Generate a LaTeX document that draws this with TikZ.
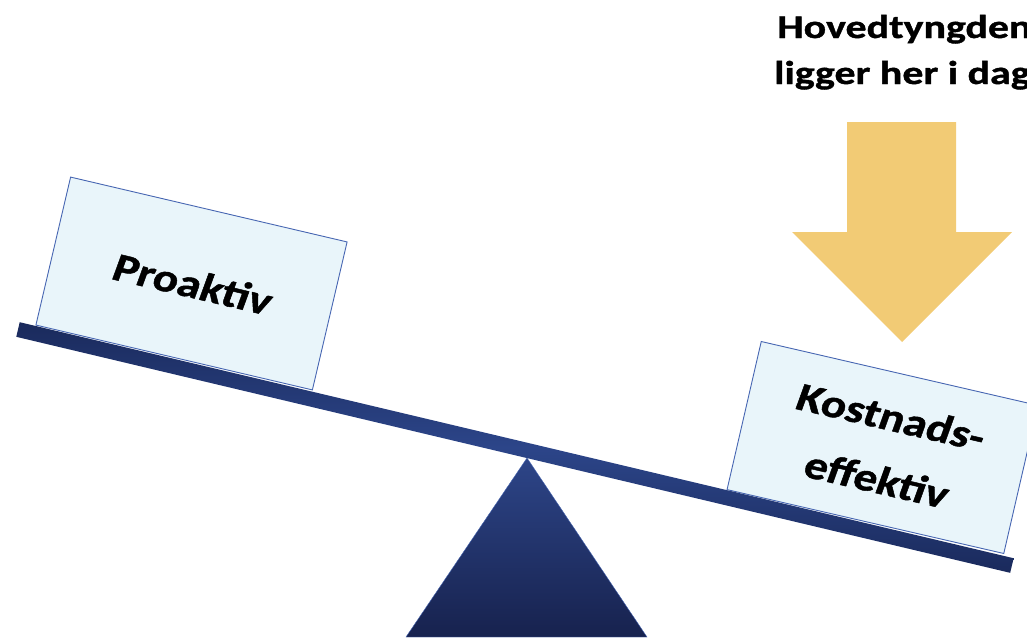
\documentclass[tikz,border=0pt]{standalone}
\usepackage{fontspec}
\setmainfont{Carlito}
\newfontfamily\widefont[FakeStretch=1.27, FakeBold=1.2]{Carlito Bold}
\newfontfamily\platefont[FakeStretch=1.17, FakeSlant=0.12, FakeBold=1.2]{Carlito Bold}
\definecolor{tritop}{HTML}{2D4588}
\definecolor{tribot}{HTML}{17224E}
\definecolor{beammid}{HTML}{2C4589}
\definecolor{beamedge}{HTML}{1A2A5C}
\definecolor{boxfill}{HTML}{E9F5FA}
\definecolor{boxline}{HTML}{4766B2}
\definecolor{arrowc}{HTML}{F2CB75}
\tikzset{
  plate/.style={draw=boxline, line width=0.9pt, fill=boxfill, minimum width=284pt, minimum height=152pt, inner sep=0pt, align=center, font=\fontsize{40}{64}\selectfont\platefont},
  title/.style={anchor=base west, inner sep=0pt, font=\fontsize{33}{40}\selectfont\widefont}
}
\begin{document}
\begin{tikzpicture}[x=1pt,y=-1pt]
\useasboundingbox (0,0) rectangle (1027,637);
\clip (0,0) rectangle (1027,637);
% fulcrum
\shade[top color=tritop, bottom color=tribot, draw=boxline, line width=0.4pt] (527,458) -- (647,637) -- (406,637) -- cycle;
% plates
\node[plate, rotate=-13.2] (pro) at (191.5,283.5) {Proaktiv};
\node[plate, rotate=-13.0] (kost) at (882.5,447.5) {Kostnads-\\effektiv};
% beam
\begin{scope}[shift={(18,329.5)}, rotate=-13.36]
\shade[top color=beamedge, bottom color=beamedge, middle color=beammid] (0,-7.5) rectangle (1021.6,7.5);
\end{scope}
% arrow
\fill[arrowc] (847,122) -- (956,122) -- (956,232) -- (1012,232) -- (902,342) -- (792,232) -- (847,232) -- cycle;
% title
\node[title] (t1) at (777,38) {Hovedtyngden};
\node[title] (t2) at (774,84) {ligger her i dag};
\end{tikzpicture}
\end{document}
